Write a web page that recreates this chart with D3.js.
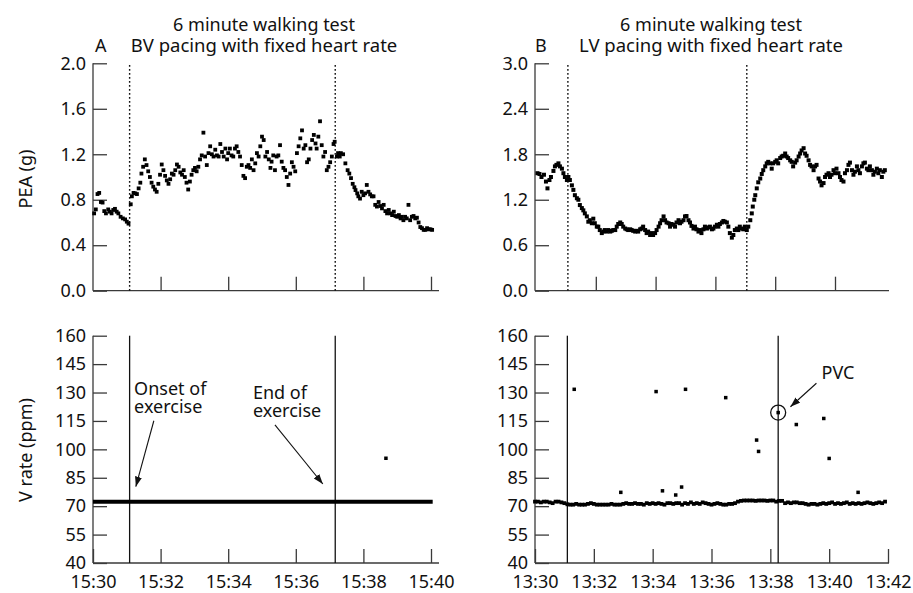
<!DOCTYPE html>
<html>
<head>
<meta charset="utf-8">
<script src="https://cdn.jsdelivr.net/npm/d3@7"></script>
<style>
  body { margin: 0; background: #fff; }
  svg text { font-family: "Noto Sans", "DejaVu Sans", sans-serif; fill: #111; }
  .axis text { font-size: 18px; font-family: "Noto Sans", "DejaVu Sans", sans-serif; fill: #111; }
  .axis line { stroke: #3a3a3a; stroke-width: 1.3; }
  .frame { stroke: #3a3a3a; stroke-width: 1.3; }
</style>
</head>
<body>
<svg id="chart" width="913" height="593"></svg>
<script>
// ---- titles and axis labels -------------------------------------------
const panelTitles = ["6 minute walking test", "6 minute walking test"];
const panelSubtitles = ["BV pacing with fixed heart rate", "LV pacing with fixed heart rate"];
const panelLetters = ["A", "B"];
const peaLabel = "PEA (g)";
const rateLabel = "V rate (ppm)";

// ---- tick labels --------------------------------------------------------
const bvTimeTicks = ["15:30", "15:32", "15:34", "15:36", "15:38", "15:40"];
const lvTimeTicks = ["13:30", "13:32", "13:34", "13:36", "13:38", "13:40", "13:42"];
const bvPeaTicks = [0.0, 0.4, 0.8, 1.2, 1.6, 2.0];
const lvPeaTicks = [0.0, 0.6, 1.2, 1.8, 2.4, 3.0];
const rateTicks = [40, 55, 70, 85, 100, 115, 130, 145, 160];

// ---- events (seconds after the first time tick) -----------------------
const bvExercise = [65, 430];          // onset / end of exercise, BV session
const lvPeaMarks = [64, 423];          // dotted markers on the LV PEA trace
const lvRateMarks = [66, 496];         // solid markers on the LV rate trace

// ---- PEA, BV pacing: [seconds after 15:30, PEA in g] ------------------
const bvPea = [
  [2,0.68],[5,0.715],[8,0.85],[11,0.86],[14,0.78],[17,0.775],[20,0.70],[23,0.68],[27,0.715],[30,0.695],
  [33,0.68],[36,0.71],[39,0.72],[42,0.695],[45,0.68],[49,0.65],[53,0.636],[57,0.627],[60,0.607],[63,0.59],
  [67,0.76],[69,0.83],[72,0.86],[75,0.856],[78,0.85],[81,0.90],[84,0.95],[86,1.03],[89,1.09],[92,1.155],
  [95,1.105],[98,1.05],[101,1.0],[104,0.95],[107,0.915],[110,0.89],[113,0.87],[116,0.94],[119,1.02],[122,1.11],
  [125,1.06],[128,1.01],[131,0.97],[134,0.94],[137,0.98],[140,1.03],[143,1.02],[146,1.06],[149,1.11],[152,1.09],
  [155,1.04],[158,1.02],[161,1.06],[163,1.0],[166,0.95],[169,0.89],[172,0.96],[175,1.02],[178,1.06],[181,1.08],
  [184,1.05],[187,1.09],[190,1.155],[193,1.19],[196,1.39],[199,1.18],[202,1.105],[205,1.21],[208,1.27],[211,1.20],
  [214,1.18],[217,1.24],[220,1.19],[223,1.18],[226,1.29],[229,1.22],[232,1.18],[235,1.25],[238,1.155],[240,1.21],
  [243,1.25],[246,1.19],[249,1.18],[252,1.25],[255,1.27],[258,1.22],[261,1.18],[264,1.105],[267,1.01],[270,0.99],
  [273,1.09],[276,1.105],[279,1.08],[282,1.155],[285,1.06],[288,1.12],[291,1.21],[294,1.18],[297,1.27],[300,1.355],
  [303,1.325],[306,1.18],[309,1.22],[312,1.155],[315,1.08],[317,1.135],[320,1.19],[323,1.06],[326,1.18],[329,1.19],
  [332,1.28],[335,1.135],[338,1.08],[341,1.06],[344,1.0],[347,0.93],[350,1.03],[353,1.13],[356,1.09],[359,1.05],
  [362,1.21],[365,1.27],[368,1.34],[371,1.41],[374,1.25],[377,1.28],[380,1.13],[383,1.155],[386,1.25],[389,1.325],
  [392,1.37],[395,1.295],[397,1.25],[400,1.355],[403,1.49],[406,1.28],[409,1.18],[412,1.22],[415,1.06],[418,1.09],
  [421,1.13],[424,1.18],[427,1.29],[429,1.31],
  [433,1.18],[435,1.21],[438,1.18],[440,1.21],[444,1.20],[448,1.12],[452,1.06],[455,1.03],[458,0.99],[461,0.94],
  [464,0.91],[466,0.885],[469,0.856],[471,0.83],[474,0.81],[477,0.87],[480,0.84],[483,0.856],[486,0.93],[489,0.87],
  [492,0.847],[495,0.83],[498,0.83],[501,0.755],[504,0.74],[507,0.78],[510,0.745],[513,0.724],[516,0.755],[519,0.70],
  [522,0.68],[525,0.71],[528,0.68],[531,0.665],[534,0.695],[537,0.657],[540,0.65],[543,0.665],[546,0.636],[548,0.65],
  [551,0.62],[554,0.65],[557,0.636],[560,0.755],[563,0.62],[566,0.65],[569,0.657],[572,0.636],[575,0.642],[578,0.60],
  [581,0.56],[584,0.55],[587,0.535],[590,0.535],[593,0.55],[596,0.54],[599,0.54],[602,0.535]
];

// ---- PEA, LV pacing: [seconds after 13:30, PEA in g] ------------------
const lvPea = [
  [3,1.55],[7,1.54],[11,1.50],[16,1.53],[20,1.44],[23,1.35],[27,1.46],[30,1.50],[35,1.58],[38,1.64],
  [41,1.66],[45,1.68],[48,1.64],[52,1.61],[55,1.55],[58,1.50],[62,1.46],
  [65,1.50],[68,1.46],[72,1.39],[75,1.33],[78,1.26],[82,1.22],[85,1.20],[88,1.13],[92,1.09],[95,1.06],
  [98,1.02],[102,0.98],[105,0.91],[108,0.93],[112,0.89],[115,0.95],[118,0.89],[122,0.845],[125,0.845],[128,0.80],
  [132,0.76],[135,0.78],[138,0.80],[142,0.78],[145,0.80],[149,0.78],[152,0.79],[155,0.80],[159,0.80],[162,0.845],
  [165,0.88],[169,0.90],[172,0.88],[175,0.845],[179,0.82],[182,0.81],[185,0.80],[189,0.81],[192,0.80],[195,0.79],
  [199,0.78],[202,0.79],[205,0.78],[209,0.81],[212,0.82],[215,0.845],[219,0.80],[222,0.76],[225,0.78],[229,0.735],
  [232,0.76],[235,0.735],[239,0.76],[242,0.80],[246,0.845],[249,0.89],[252,0.93],[256,0.98],[259,0.93],[262,0.90],
  [266,0.89],[269,0.845],[272,0.88],[276,0.87],[279,0.845],[282,0.90],[286,0.93],[289,0.89],[292,0.91],[296,0.93],
  [299,0.98],[302,0.985],[306,0.93],[309,0.90],[312,0.855],[316,0.82],[319,0.845],[322,0.81],[326,0.78],[329,0.80],
  [332,0.76],[336,0.81],[339,0.845],[343,0.82],[346,0.835],[349,0.845],[353,0.81],[356,0.82],[359,0.845],[363,0.87],
  [366,0.845],[369,0.88],[373,0.90],[376,0.92],[379,0.91],[383,0.90],[386,0.845],[389,0.76],[393,0.70],[396,0.735],
  [399,0.80],[403,0.82],[406,0.80],[409,0.845],[413,0.82],[416,0.81],[419,0.845],[423,0.80],[426,0.845],
  [430,0.93],[433,1.02],[435,1.11],[438,1.20],[440,1.26],[443,1.35],[446,1.43],[450,1.48],[453,1.54],[456,1.59],
  [460,1.64],[463,1.68],[466,1.70],[470,1.68],[473,1.61],[476,1.68],[480,1.70],[483,1.72],[486,1.68],[490,1.75],
  [493,1.77],[496,1.78],[500,1.81],[503,1.77],[506,1.75],[510,1.72],[513,1.70],[516,1.64],[520,1.69],[523,1.72],
  [527,1.77],[530,1.81],[533,1.85],[537,1.88],[540,1.81],[543,1.78],[547,1.72],[550,1.66],[553,1.64],[557,1.59],
  [560,1.64],[563,1.66],[567,1.48],[570,1.44],[573,1.39],[577,1.42],[580,1.50],[583,1.53],[587,1.55],[590,1.50],
  [593,1.53],[597,1.59],[600,1.55],[603,1.61],[607,1.55],[610,1.50],[613,1.46],[617,1.44],[620,1.55],[624,1.59],
  [627,1.66],[630,1.69],[634,1.59],[637,1.53],[640,1.57],[644,1.64],[647,1.59],[650,1.55],[654,1.64],[657,1.68],
  [660,1.69],[664,1.61],[667,1.59],[670,1.64],[674,1.59],[677,1.53],[680,1.57],[684,1.61],[687,1.55],[690,1.59],
  [694,1.50],[697,1.57],[700,1.59]
];

// ---- ventricular rate, BV pacing (ppm) --------------------------------
const bvPacedRate = [[0,72.4],[603,72.4]];   // paced beats at a fixed rate
const bvRateExtra = [[520,95.3]];

// ---- ventricular rate, LV pacing (ppm) --------------------------------
const lvRateBase = [
  [0,72.4],[6,72.4],[12,72.0],[18,72.4],[24,72.4],[30,72.0],[36,71.6],[42,72.4],[48,72.4],[54,72.0],[60,71.6],
  [66,71.0],[72,70.8],[78,70.8],[84,71.2],[90,70.8],[96,70.8],[102,70.8],[108,71.2],[114,71.6],[120,71.2],
  [126,70.8],[132,70.8],[138,70.8],[144,70.8],[150,70.8],[156,71.2],[162,70.8],[168,70.8],[174,70.8],[180,71.2],
  [186,71.6],[192,71.2],[198,71.2],[204,71.6],[210,71.2],[216,71.2],[222,70.8],[228,71.6],
  [234,71.2],[240,71.6],[246,71.2],[252,71.6],[258,71.2],[264,70.8],[270,71.6],[276,71.6],[282,71.2],[288,71.6],
  [294,71.6],[300,70.8],[306,71.6],[312,71.2],[318,72.0],[324,71.2],[330,71.6],[336,71.2],[342,72.0],[348,71.6],
  [354,71.2],[360,70.8],[366,71.2],[372,71.6],[378,71.2],[384,70.8],[390,70.8],[396,71.2],[402,71.2],[408,71.6],[414,72.4],
  [420,72.8],[426,73.0],[432,73.0],[438,73.0],[444,73.0],[450,72.8],[456,73.0],[462,73.0],[468,73.0],[474,72.8],
  [480,73.0],[486,73.0],[492,72.4],[498,72.8],[504,72.8],
  [510,71.6],[516,72.0],[522,71.6],[528,72.0],[534,72.0],[540,71.6],[546,71.6],[552,71.2],[558,70.8],[564,71.2],
  [570,71.2],[576,70.8],[582,71.2],[588,71.6],[594,71.2],[600,71.6],[606,72.0],[612,71.2],[618,71.6],[624,71.2],
  [630,71.6],[636,72.0],[642,71.2],[648,71.6],[654,71.2],[660,71.6],[666,71.2],[672,71.6],[678,72.0],[684,71.6],
  [690,71.2],[696,71.6],[702,72.0],[708,71.6],[714,72.4]
];
const lvRateExtra = [
  [80,131.7],[175,77.3],[247,130.5],[260,78.1],[287,75.9],[299,80.1],[307,131.7],[389,127.3],
  [452,104.9],[456,98.9],[496,119.4],[533,113.1],[589,116.3],[600,95.2],[659,77.3]
];
const pvcBeat = [496, 119.4];

// ---- annotations (time in seconds, rate in ppm) -----------------------
const bvNotes = [
  { lines: ["Onset of", "exercise"], at: [73, 128.7], from: [108, 115.1], to: [76, 80.3] },
  { lines: ["End of", "exercise"], at: [284, 126.4], from: [323, 112.9], to: [408, 81.7] }
];
const pvcNote = { text: "PVC", at: [618, 137], from: [574, 134.9], to: [521, 122.5] };

// ======================================================================
const svg = d3.select("#chart");
const parseHM = d3.timeParse("%H:%M");
const fmtHM = d3.timeFormat("%H:%M");
const bvStart = parseHM(bvTimeTicks[0]);
const lvStart = parseHM(lvTimeTicks[0]);
const at = (base, s) => new Date(base.getTime() + s * 1000);

svg.append("defs").append("marker")
  .attr("id", "head").attr("markerUnits", "userSpaceOnUse")
  .attr("markerWidth", 11).attr("markerHeight", 8)
  .attr("refX", 10).attr("refY", 3.5).attr("orient", "auto")
  .append("path").attr("d", "M0,0 L10,3.5 L0,7 Z").attr("fill", "#111");

// scales
const xBV = d3.scaleTime().domain([bvStart, parseHM(bvTimeTicks[bvTimeTicks.length - 1])]).range([93, 431]);
const xLVtop = d3.scaleTime().domain([lvStart, parseHM(lvTimeTicks[lvTimeTicks.length - 1])]).range([536, 894.8]);
const xLVbot = d3.scaleTime().domain([lvStart, parseHM(lvTimeTicks[lvTimeTicks.length - 1])]).range([535, 888]);
const yBVpea = d3.scaleLinear().domain([0, 2]).range([290.7, 63.3]);
const yLVpea = d3.scaleLinear().domain([0, 3]).range([290.7, 63.3]);
const yRateL = d3.scaleLinear().domain([40, 160]).range([563, 335.7]);
const yRateR = d3.scaleLinear().domain([40, 160]).range([563, 335.7]);

function axes({ x, y, axisX, xEnd, yTicks, yFormat, xTicks, labels }) {
  const g = svg.append("g");
  const [yb, yt] = y.range();
  g.append("line").attr("class", "frame").attr("x1", axisX).attr("x2", axisX).attr("y1", yb).attr("y2", yt);
  g.append("line").attr("class", "frame").attr("x1", axisX).attr("x2", xEnd).attr("y1", yb).attr("y2", yb);
  g.append("g").attr("class", "axis").attr("transform", `translate(${axisX},0)`)
    .call(d3.axisLeft(y).tickValues(yTicks).tickFormat(yFormat).tickSize(-14).tickPadding(7))
    .call(s => s.select(".domain").remove());
  g.append("g").attr("class", "axis").attr("transform", `translate(0,${yb})`)
    .call(d3.axisBottom(x).tickValues(xTicks).tickFormat(labels ? fmtHM : () => "").tickSize(-14).tickPadding(12))
    .call(s => s.select(".domain").remove());
}

function squares(data, x, y, base, size) {
  svg.append("g").selectAll("rect").data(data).join("rect")
    .attr("x", d => x(at(base, d[0])) - size / 2)
    .attr("y", d => y(d[1]) - size / 2)
    .attr("width", size).attr("height", size)
    .attr("fill", "#000");
}

function eventLines(times, x, y, base, dotted) {
  svg.append("g").selectAll("line").data(times).join("line")
    .attr("x1", d => x(at(base, d))).attr("x2", d => x(at(base, d)))
    .attr("y1", y.range()[0]).attr("y2", y.range()[1])
    .attr("stroke", "#111").attr("stroke-width", dotted ? 1.4 : 1.3)
    .attr("stroke-dasharray", dotted ? "1.6,2.4" : null);
}

const bvTickDates = bvTimeTicks.map(parseHM);
const lvTickDates = lvTimeTicks.map(parseHM);

// panel A, PEA
axes({ x: xBV, y: yBVpea, axisX: 93, xEnd: 439, yTicks: bvPeaTicks, yFormat: d3.format(".1f"),
       xTicks: bvTickDates.slice(1), labels: false });
eventLines(bvExercise, xBV, yBVpea, bvStart, true);
squares(bvPea, xBV, yBVpea, bvStart, 3.8);

// panel B, PEA
axes({ x: xLVtop, y: yLVpea, axisX: 535, xEnd: 889, yTicks: lvPeaTicks, yFormat: d3.format(".1f"),
       xTicks: lvTickDates.slice(1, -1), labels: false });
eventLines(lvPeaMarks, xLVtop, yLVpea, lvStart, true);
squares(lvPea, xLVtop, yLVpea, lvStart, 4);

// panel A, ventricular rate
axes({ x: xBV, y: yRateL, axisX: 93, xEnd: 439, yTicks: rateTicks, yFormat: d3.format("d"),
       xTicks: bvTickDates, labels: true });
eventLines(bvExercise, xBV, yRateL, bvStart, false);
svg.append("path").datum(bvPacedRate)
  .attr("d", d3.line().x(d => xBV(at(bvStart, d[0]))).y(d => yRateL(d[1])))
  .attr("stroke", "#000").attr("stroke-width", 4).attr("fill", "none");
squares(bvRateExtra, xBV, yRateL, bvStart, 3.5);

// panel B, ventricular rate
axes({ x: xLVbot, y: yRateR, axisX: 535, xEnd: 889, yTicks: rateTicks, yFormat: d3.format("d"),
       xTicks: lvTickDates, labels: true });
eventLines(lvRateMarks, xLVbot, yRateR, lvStart, false);
squares(lvRateBase, xLVbot, yRateR, lvStart, 3.8);
squares(lvRateExtra, xLVbot, yRateR, lvStart, 3.5);
svg.append("circle")
  .attr("cx", xLVbot(at(lvStart, pvcBeat[0]))).attr("cy", yRateR(pvcBeat[1]))
  .attr("r", 7.5).attr("fill", "none").attr("stroke", "#111").attr("stroke-width", 1.3);

// annotations
function arrow(x, y, base, from, to) {
  svg.append("line")
    .attr("x1", x(at(base, from[0]))).attr("y1", y(from[1]))
    .attr("x2", x(at(base, to[0]))).attr("y2", y(to[1]))
    .attr("stroke", "#111").attr("stroke-width", 1.1).attr("marker-end", "url(#head)");
}
bvNotes.forEach(n => {
  const t = svg.append("text").attr("x", xBV(at(bvStart, n.at[0]))).attr("y", yRateL(n.at[1]))
    .attr("font-size", 18);
  n.lines.forEach((line, i) => t.append("tspan").attr("x", xBV(at(bvStart, n.at[0])))
    .attr("dy", i ? 18 : 0).text(line));
  arrow(xBV, yRateL, bvStart, n.from, n.to);
});
svg.append("text").attr("x", xLVbot(at(lvStart, pvcNote.at[0]))).attr("y", yRateR(pvcNote.at[1]))
  .attr("text-anchor", "middle").attr("font-size", 18).text(pvcNote.text);
arrow(xLVbot, yRateR, lvStart, pvcNote.from, pvcNote.to);

// titles
[[264, 95], [711, 535]].forEach(([cx, ax], i) => {
  svg.append("text").attr("x", cx).attr("y", 30.5).attr("text-anchor", "middle")
    .attr("font-size", 18).text(panelTitles[i]);
  svg.append("text").attr("x", cx).attr("y", 51.5).attr("text-anchor", "middle")
    .attr("font-size", 18.5).text(panelSubtitles[i]);
  svg.append("text").attr("x", ax).attr("y", 51.5).attr("font-size", 18).text(panelLetters[i]);
});

// y-axis titles
svg.append("text").attr("transform", "translate(32,179) rotate(-90)").attr("text-anchor", "middle")
  .attr("font-size", 18).text(peaLabel);
svg.append("text").attr("transform", "translate(32,450) rotate(-90)").attr("text-anchor", "middle")
  .attr("font-size", 18).text(rateLabel);
</script>
</body>
</html>
